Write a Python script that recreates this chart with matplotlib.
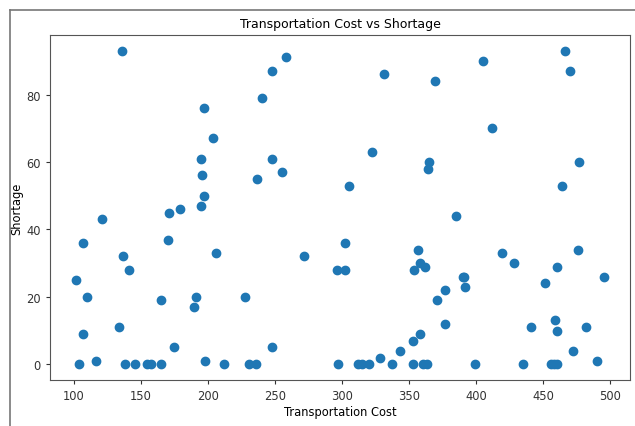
import matplotlib
matplotlib.use("Agg")
import matplotlib.pyplot as plt
from matplotlib.lines import Line2D

# Transportation cost (x) and shortage (y)
cost = [
    136, 197, 204, 195, 196, 197, 195, 179, 171, 121, 107, 170, 137, 141, 206,
    102, 110, 191, 190, 165, 134, 107, 175, 117, 198,
    104, 138, 146, 155, 158, 165, 212,
    258, 248, 240, 331, 248, 255, 237, 322, 305, 365, 364,
    466, 405, 470, 369, 412, 477, 464,
    228, 272, 302, 296, 302, 357, 358, 362, 354,
    248, 358, 353, 343, 328,
    231, 236, 297, 312, 315, 320, 337, 353, 360, 363,
    385, 419, 428, 476, 460, 390, 391, 392, 377, 371, 377, 451, 495,
    459, 460, 441, 482, 472, 490,
    399, 435, 456, 458, 460,
]
shortage = [
    93, 76, 67, 61, 56, 50, 47, 46, 45, 43, 36, 37, 32, 28, 33,
    25, 20, 20, 17, 19, 11, 9, 5, 1, 1,
    0, 0, 0, 0, 0, 0, 0,
    91, 87, 79, 86, 61, 57, 55, 63, 53, 60, 58,
    93, 90, 87, 84, 70, 60, 53,
    20, 32, 36, 28, 28, 34, 30, 29, 28,
    5, 9, 7, 4, 2,
    0, 0, 0, 0, 0, 0, 0, 0, 0, 0,
    44, 33, 30, 34, 29, 26, 26, 23, 22, 19, 12, 24, 26,
    13, 10, 11, 11, 4, 1,
    0, 0, 0, 0, 0,
]

plt.rcParams["font.size"] = 8.3

fig = plt.figure(figsize=(6.35, 4.27), dpi=100)
ax = fig.add_axes([50 / 635, 46 / 427, 580 / 635, 345 / 427])

ax.scatter(cost, shortage, s=36, color="#1f77b4")
ax.set_title("Transportation Cost vs Shortage", fontsize=9, pad=6)
ax.set_xlabel("Transportation Cost", labelpad=2)
ax.set_ylabel("Shortage", labelpad=2)
ax.set_xticks([100, 150, 200, 250, 300, 350, 400, 450, 500])
ax.set_yticks([0, 20, 40, 60, 80])
for s in ax.spines.values():
    s.set_color("#555555")
ax.tick_params(colors="#333333", length=3)

# screenshot frame (left and top edges only)
fig.add_artist(Line2D([10 / 635, 10 / 635], [0, 1 - 11 / 427], color="#777777", lw=1.2))
fig.add_artist(Line2D([10 / 635, 1], [1 - 11 / 427, 1 - 11 / 427], color="#777777", lw=1.2))

fig.savefig("out.png", dpi=100)
